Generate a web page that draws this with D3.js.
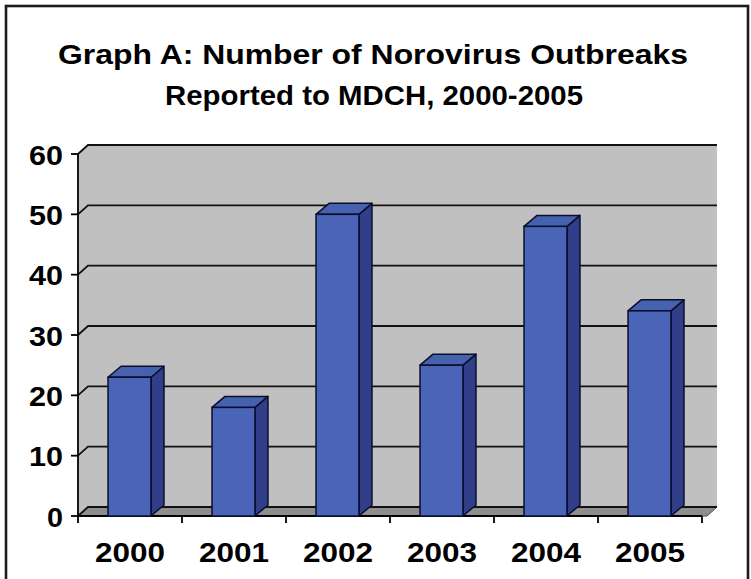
<!DOCTYPE html>
<html>
<head>
<meta charset="utf-8">
<script src="https://cdn.jsdelivr.net/npm/d3@7"></script>
<style>
  html, body { margin: 0; padding: 0; background: #ffffff; }
  svg { display: block; }
  text { font-family: "Liberation Sans", Arial, sans-serif; font-weight: bold; fill: #000; }
</style>
</head>
<body>
<svg id="chart" width="751" height="579"></svg>
<script>
// Outbreak counts by year
const years = ["2000", "2001", "2002", "2003", "2004", "2005"];
const outbreaks = [23, 18, 50, 25, 48, 34];
const yTicks = [0, 10, 20, 30, 40, 50, 60];
const titleLines = ["Graph A:  Number of Norovirus Outbreaks", "Reported to MDCH, 2000-2005"];

const svg = d3.select("#chart");

// Frame around the whole graphic
svg.append("rect")
  .attr("x", 6).attr("y", 6)
  .attr("width", 742).attr("height", 590)
  .attr("fill", "#fff")
  .attr("stroke", "#1c1c1c")
  .attr("stroke-width", 2.6);

// Title
const titleSpecs = [
  { y: 64, len: 630, cx: 373 },
  { y: 105, len: 418, cx: 374 }
];
titleLines.forEach((t, i) => {
  svg.append("text")
    .attr("x", titleSpecs[i].cx)
    .attr("y", titleSpecs[i].y)
    .attr("text-anchor", "middle")
    .attr("font-size", 27)
    .attr("textLength", titleSpecs[i].len)
    .attr("lengthAdjust", "spacingAndGlyphs")
    .text(t);
});

// Front plane scales
const x = d3.scaleBand().domain(years).range([78, 702]);
const y = d3.scaleLinear().domain([0, 60]).range([516, 154]);

// Depth offsets for the walls and for the columns
const wallDx = 10, wallDy = -9;
const barDx = 13, barDy = -11;
const wallRight = 717;
const floorFrontRight = 707;

const g = svg.append("g");

// Side wall (left) and back wall
const x0 = x.range()[0];
g.append("path")
  .attr("d", `M${x0},${y(60)} L${x0 + wallDx},${y(60) + wallDy} L${wallRight},${y(60) + wallDy} L${wallRight},${y(0) + wallDy} L${x0 + wallDx},${y(0) + wallDy} L${x0},${y(0)} Z`)
  .attr("fill", "#c0c0c0");

// Floor
g.append("path")
  .attr("d", `M${x0},${y(0)} L${x0 + wallDx},${y(0) + wallDy} L${wallRight},${y(0) + wallDy} L${floorFrontRight},${y(0)} Z`)
  .attr("fill", "#8e8e8e")
  .attr("stroke", "#4a4a4a")
  .attr("stroke-width", 1);

// Gridlines running across the side wall and the back wall
g.selectAll("path.grid")
  .data(yTicks)
  .join("path")
  .attr("class", "grid")
  .attr("d", d => `M${x0},${y(d)} L${x0 + wallDx},${y(d) + wallDy} L${wallRight},${y(d) + wallDy}`)
  .attr("fill", "none")
  .attr("stroke", "#111")
  .attr("stroke-width", 1.8);

// Value axis
g.append("line")
  .attr("x1", x0).attr("x2", x0)
  .attr("y1", y(60)).attr("y2", y(0))
  .attr("stroke", "#000").attr("stroke-width", 1.8);
g.selectAll("line.ytick")
  .data(yTicks)
  .join("line")
  .attr("class", "ytick")
  .attr("x1", x0 - 7).attr("x2", x0)
  .attr("y1", d => y(d)).attr("y2", d => y(d))
  .attr("stroke", "#000").attr("stroke-width", 1.8);
g.selectAll("text.ylab")
  .data(yTicks)
  .join("text")
  .attr("class", "ylab")
  .attr("x", 63)
  .attr("y", d => y(d) + 10.5)
  .attr("text-anchor", "end")
  .attr("font-size", 28)
  .attr("textLength", d => String(d).length === 1 ? 16 : 34)
  .attr("lengthAdjust", "spacingAndGlyphs")
  .text(d => d);

// Category axis
g.append("line")
  .attr("x1", x0).attr("x2", x.range()[1])
  .attr("y1", y(0)).attr("y2", y(0))
  .attr("stroke", "#000").attr("stroke-width", 1.8);
const edges = years.map(d => x(d)).concat([x.range()[1]]);
g.selectAll("line.xtick")
  .data(edges)
  .join("line")
  .attr("class", "xtick")
  .attr("x1", d => d).attr("x2", d => d)
  .attr("y1", y(0)).attr("y2", y(0) + 7)
  .attr("stroke", "#000").attr("stroke-width", 1.8);
g.selectAll("text.xlab")
  .data(years)
  .join("text")
  .attr("class", "xlab")
  .attr("x", d => x(d) + x.bandwidth() / 2)
  .attr("y", 562)
  .attr("text-anchor", "middle")
  .attr("font-size", 28)
  .attr("textLength", 70)
  .attr("lengthAdjust", "spacingAndGlyphs")
  .text(d => d);

// Columns: front face, top and right side
const bw = x.bandwidth() * 0.413;
const bars = g.selectAll("g.bar")
  .data(years.map((d, i) => ({ year: d, value: outbreaks[i] })))
  .join("g")
  .attr("class", "bar");
const stroke = "#0b0f2e";
const left = d => x(d.year) + (x.bandwidth() - bw) / 2 - 0.5;
bars.append("path")
  .attr("d", d => {
    const xr = left(d) + bw;
    const yt = y(d.value), yb = y(0);
    return `M${xr},${yt} L${xr + barDx},${yt + barDy} L${xr + barDx},${yb + barDy} L${xr},${yb} Z`;
  })
  .attr("fill", "#313f8a").attr("stroke", stroke).attr("stroke-width", 1.5).attr("stroke-linejoin", "round");
bars.append("path")
  .attr("d", d => {
    const xl = left(d), xr = xl + bw;
    const yt = y(d.value);
    return `M${xl},${yt} L${xl + barDx},${yt + barDy} L${xr + barDx},${yt + barDy} L${xr},${yt} Z`;
  })
  .attr("fill", "#4661ae").attr("stroke", stroke).attr("stroke-width", 1.5).attr("stroke-linejoin", "round");
bars.append("rect")
  .attr("x", left)
  .attr("y", d => y(d.value))
  .attr("width", bw)
  .attr("height", d => y(0) - y(d.value))
  .attr("fill", "#4a65b8").attr("stroke", stroke).attr("stroke-width", 1.5);
</script>
</body>
</html>
